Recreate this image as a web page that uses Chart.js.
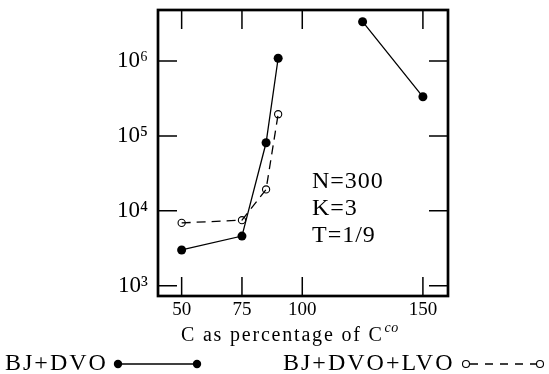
<!DOCTYPE html>
<html>
<head>
<meta charset="utf-8">
<script src="https://cdn.jsdelivr.net/npm/chart.js@4.4.1/dist/chart.umd.min.js"></script>
<style>
  html, body { margin: 0; padding: 0; background: #fff; }
  #wrap { width: 549px; height: 374px; position: relative; }
</style>
</head>
<body>
<div id="wrap"><canvas id="c" width="549" height="374"></canvas></div>
<script>
// ---- data ----
const xPct = [50, 75, 85, 90, 100, 125, 150];
const bjDvo = [3000, 4600, 81000, 1090000, null, 3350000, 333000];
const bjDvoLvo = [6900, 7500, 19300, 195000, null, null, null];
const seriesNames = ['BJ+DVO', 'BJ+DVO+LVO'];
const xTickValues = [50, 75, 100, 150];
const yTickValues = [1e3, 1e4, 1e5, 1e6];
const yTickLabels = ['10\u00B3', '10\u2074', '10\u2075', '10\u2076'];
const xTitle = 'C as percentage of C';
const xTitleSup = 'co';
const annotationLines = ['N=300', 'K=3', 'T=1/9'];

const FONT = "'Liberation Serif', 'DejaVu Serif', serif";
Chart.defaults.font.family = FONT;
Chart.defaults.color = '#000';

function toPoints(xs, ys) {
  return xs.map((x, i) => ({ x: x, y: ys[i] }));
}

const framePlugin = {
  id: 'frame',
  beforeDatasetsDraw(chart) {
    const ctx = chart.ctx;
    const a = chart.chartArea;
    const xs = chart.scales.x, ys = chart.scales.y;
    const L = 19;
    ctx.save();
    ctx.strokeStyle = '#000';
    ctx.lineWidth = 1.5;
    ctx.beginPath();
    xs.ticks.forEach(t => {
      const px = xs.getPixelForValue(t.value);
      ctx.moveTo(px, a.top); ctx.lineTo(px, a.top + L);
      ctx.moveTo(px, a.bottom); ctx.lineTo(px, a.bottom - L);
    });
    ys.ticks.forEach(t => {
      const py = ys.getPixelForValue(t.value);
      ctx.moveTo(a.left, py); ctx.lineTo(a.left + L, py);
      ctx.moveTo(a.right, py); ctx.lineTo(a.right - L, py);
    });
    ctx.stroke();
    ctx.lineWidth = 2.7;
    ctx.strokeRect(a.left, a.top, a.right - a.left, a.bottom - a.top);
    ctx.restore();
  },
  afterDraw(chart) {
    const ctx = chart.ctx;
    ctx.save();
    ctx.fillStyle = '#000';
    ctx.textBaseline = 'alphabetic';
    // axis title with superscript
    ctx.font = '20px ' + FONT;
    ctx.letterSpacing = '1.8px';
    ctx.textAlign = 'left';
    const tx = 181, ty = 341;
    ctx.fillText(xTitle, tx, ty);
    const w = ctx.measureText(xTitle).width;
    ctx.font = 'italic 14px ' + FONT;
    ctx.letterSpacing = '0.5px';
    ctx.fillText(xTitleSup, tx + w + 1, ty - 9);

    // annotation
    ctx.font = '24px ' + FONT;
    ctx.letterSpacing = '1px';
    annotationLines.forEach((s, i) => ctx.fillText(s, 312, 188 + i * 27));

    // legend
    const ds = chart.data.datasets;
    const ly = 364;
    ctx.font = '24px ' + FONT;
    ctx.letterSpacing = '2px';
    ctx.fillText(ds[0].label, 5, 370);
    ctx.letterSpacing = '0px';
    ctx.strokeStyle = '#000';
    ctx.lineWidth = 1.3;
    ctx.setLineDash([]);
    ctx.beginPath(); ctx.moveTo(118, ly); ctx.lineTo(197, ly); ctx.stroke();
    [118, 197].forEach(x => { ctx.beginPath(); ctx.arc(x, ly, 4.2, 0, Math.PI * 2); ctx.fill(); });
    ctx.letterSpacing = '2px';
    ctx.fillText(ds[1].label, 283, 370);
    ctx.letterSpacing = '0px';
    ctx.setLineDash([8, 7]);
    ctx.beginPath(); ctx.moveTo(470, ly); ctx.lineTo(537, ly); ctx.stroke();
    ctx.setLineDash([]);
    ctx.lineWidth = 1.1;
    [466, 540].forEach(x => { ctx.beginPath(); ctx.arc(x, ly, 3.5, 0, Math.PI * 2); ctx.stroke(); });
    ctx.restore();
  }
};

new Chart(document.getElementById('c'), {
  type: 'line',
  data: {
    datasets: [
      {
        label: seriesNames[0],
        data: toPoints(xPct, bjDvo),
        borderColor: '#000',
        backgroundColor: '#000',
        borderWidth: 1.3,
        pointRadius: 4.5,
        pointBorderWidth: 0,
        pointBackgroundColor: '#000',
        spanGaps: false,
        tension: 0
      },
      {
        label: seriesNames[1],
        data: toPoints(xPct, bjDvoLvo),
        borderColor: '#000',
        backgroundColor: 'rgba(0,0,0,0)',
        borderWidth: 1.3,
        borderDash: [9, 6],
        pointRadius: 3.6,
        pointBorderWidth: 1.1,
        pointBackgroundColor: 'rgba(0,0,0,0)',
        pointBorderColor: '#000',
        spanGaps: false,
        tension: 0
      }
    ]
  },
  options: {
    responsive: false,
    animation: false,
    devicePixelRatio: 1,
    layout: { padding: { left: 0, top: 10, right: 101, bottom: 0 } },
    plugins: { legend: { display: false }, tooltip: { enabled: false }, title: { display: false } },
    scales: {
      x: {
        type: 'linear',
        min: 40.2,
        max: 160.4,
        grid: { display: false, drawTicks: false },
        border: { display: false },
        afterBuildTicks(scale) { scale.ticks = xTickValues.map(v => ({ value: v })); },
        afterFit(scale) { scale.height = 78; scale.paddingLeft = 0; scale.paddingRight = 0; },
        ticks: {
          autoSkip: false,
          maxRotation: 0,
          padding: 3,
          font: { size: 19 },
          color: '#000',
          callback: v => String(v)
        }
      },
      y: {
        type: 'logarithmic',
        min: 729,
        max: 4.8e6,
        grid: { display: false, drawTicks: false },
        border: { display: false },
        afterBuildTicks(scale) { scale.ticks = yTickValues.map(v => ({ value: v })); },
        afterFit(scale) { scale.width = 158; scale.paddingTop = 0; scale.paddingBottom = 0; },
        ticks: {
          autoSkip: false,
          padding: 10,
          font: { size: 23 },
          color: '#000',
          callback: (v) => { const i = yTickValues.indexOf(v); return i >= 0 ? yTickLabels[i] : ''; }
        }
      }
    }
  },
  plugins: [framePlugin]
});
</script>
</body>
</html>
